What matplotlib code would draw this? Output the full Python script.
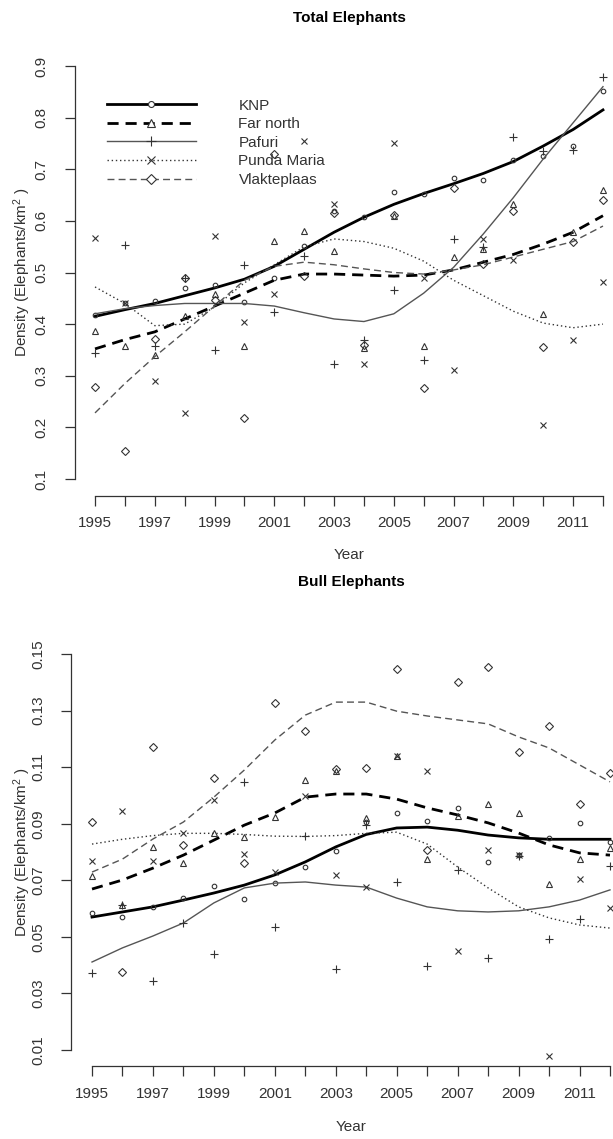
import matplotlib
matplotlib.use('Agg')
import matplotlib.pyplot as plt
from matplotlib.lines import Line2D

plt.rcParams['font.family'] = ['Liberation Sans', 'DejaVu Sans']
plt.rcParams['mathtext.default'] = 'regular'

years = list(range(1995, 2013))
names = ['KNP', 'Far north', 'Pafuri', 'Punda Maria', 'Vlakteplaas']

# ---- Total elephants: observed densities
tot_knp = [0.417, 0.44, 0.444, 0.47, 0.476, 0.443, 0.49, 0.551, 0.62, 0.607, 0.655, 0.653, 0.684, 0.68, 0.717, 0.725, 0.746, 0.851]
tot_far = [0.386, 0.357, 0.341, 0.415, 0.458, 0.357, 0.561, 0.58, 0.542, 0.353, 0.61, 0.357, 0.53, 0.546, 0.633, 0.419, 0.579, 0.66]
tot_paf = [0.345, 0.553, 0.357, 0.49, 0.35, 0.515, 0.423, 0.532, 0.322, 0.37, 0.466, 0.33, 0.565, 0.55, 0.762, 0.735, 0.737, 0.878]
tot_pun = [0.567, 0.44, 0.289, 0.227, 0.571, 0.404, 0.458, 0.755, 0.633, 0.322, 0.75, 0.49, 0.312, 0.565, 0.525, 0.205, 0.37, 0.481]
tot_vla = [0.279, 0.155, 0.371, 0.49, 0.447, 0.219, 0.73, 0.493, 0.615, 0.36, 0.612, 0.277, 0.663, 0.516, 0.62, 0.355, 0.56, 0.641]

# ---- Total elephants: smoothed trends
tot_knp_fit = [0.415, 0.428, 0.44, 0.455, 0.47, 0.487, 0.512, 0.545, 0.578, 0.607, 0.632, 0.653, 0.672, 0.692, 0.715, 0.745, 0.777, 0.815]
tot_far_fit = [0.352, 0.37, 0.385, 0.41, 0.435, 0.46, 0.485, 0.497, 0.497, 0.495, 0.493, 0.495, 0.505, 0.52, 0.535, 0.555, 0.578, 0.61]
tot_paf_fit = [0.42, 0.43, 0.436, 0.44, 0.44, 0.44, 0.435, 0.422, 0.41, 0.405, 0.42, 0.46, 0.51, 0.575, 0.645, 0.72, 0.79, 0.86]
tot_pun_fit = [0.472, 0.44, 0.397, 0.4, 0.433, 0.48, 0.515, 0.55, 0.565, 0.56, 0.547, 0.522, 0.485, 0.455, 0.425, 0.402, 0.393, 0.4]
tot_vla_fit = [0.228, 0.285, 0.337, 0.385, 0.435, 0.485, 0.512, 0.52, 0.515, 0.507, 0.5, 0.497, 0.505, 0.515, 0.53, 0.545, 0.56, 0.59]

# ---- Bull elephants: observed densities
bul_knp = [0.0584, 0.057, 0.0606, 0.0637, 0.068, 0.0634, 0.069, 0.0747, 0.0804, 0.0905, 0.0938, 0.091, 0.0956, 0.0765, 0.079, 0.085, 0.0903, 0.0835]
bul_far = [0.0715, 0.0613, 0.0818, 0.0761, 0.0867, 0.0853, 0.0924, 0.1055, 0.1086, 0.092, 0.1139, 0.0775, 0.0927, 0.097, 0.0938, 0.0687, 0.0775, 0.0815]
bul_paf = [0.0372, 0.0613, 0.0344, 0.0549, 0.044, 0.1048, 0.0535, 0.0857, 0.0386, 0.0895, 0.0694, 0.0397, 0.0736, 0.0425, 0.0785, 0.0493, 0.0563, 0.0751]
bul_pun = [0.0768, 0.0945, 0.0768, 0.0867, 0.0984, 0.0793, 0.0729, 0.0998, 0.0719, 0.0676, 0.1139, 0.1086, 0.045, 0.0807, 0.079, 0.0079, 0.0705, 0.0602]
bul_vla = [0.0906, 0.0376, 0.1171, 0.0825, 0.1062, 0.0761, 0.1327, 0.1228, 0.1095, 0.1097, 0.1447, 0.0807, 0.1401, 0.1454, 0.1154, 0.1245, 0.097, 0.1079]

# ---- Bull elephants: smoothed trends
bul_knp_fit = [0.057, 0.0588, 0.0606, 0.063, 0.0655, 0.0683, 0.0719, 0.0765, 0.0818, 0.0862, 0.0885, 0.0888, 0.0877, 0.086, 0.085, 0.0845, 0.0845, 0.0845]
bul_far_fit = [0.0669, 0.0701, 0.0743, 0.0789, 0.0842, 0.0895, 0.0938, 0.0994, 0.1005, 0.1005, 0.0987, 0.0956, 0.0931, 0.0903, 0.0867, 0.0825, 0.0797, 0.0789]
bul_paf_fit = [0.0411, 0.0461, 0.0503, 0.0549, 0.062, 0.0673, 0.069, 0.0694, 0.0683, 0.0676, 0.0637, 0.0606, 0.0592, 0.0588, 0.0592, 0.0606, 0.063, 0.0666]
bul_pun_fit = [0.0828, 0.0845, 0.0858, 0.0866, 0.0866, 0.0862, 0.0856, 0.0855, 0.0858, 0.0866, 0.087, 0.0828, 0.0747, 0.0673, 0.0606, 0.0567, 0.0542, 0.0531]
bul_vla_fit = [0.0729, 0.0775, 0.0846, 0.0906, 0.0994, 0.109, 0.1196, 0.1284, 0.133, 0.133, 0.1298, 0.1281, 0.1267, 0.1253, 0.1207, 0.1168, 0.1108, 0.1048]

tot_ticks = [0.1, 0.2, 0.3, 0.4, 0.5, 0.6, 0.7, 0.8, 0.9]
bul_ticks = [0.01, 0.03, 0.05, 0.07, 0.09, 0.11, 0.13, 0.15]

# line / marker style per site
sty = {
    'KNP':         dict(color='black',   lw=2.0, ls='-',            marker='o', ms=3.3),
    'Far north':   dict(color='black',   lw=2.0, ls=(0, (4, 2.5)),  marker='^', ms=4.2),
    'Pafuri':      dict(color='#555555', lw=1.0, ls='-',            marker='+', ms=6),
    'Punda Maria': dict(color='#333333', lw=1.0, ls=(0, (1, 2)),    marker='x', ms=4.3),
    'Vlakteplaas': dict(color='#555555', lw=1.0, ls=(0, (5, 3)),    marker='D', ms=3.6),
}

W, H = 613, 1139
fig = plt.figure(figsize=(W / 100, H / 100), dpi=100)


def box(l, t, r, b):
    return [l / W, 1 - b / H, (r - l) / W, (b - t) / H]


def panel(rect, pts, fits, ticks, pad, title, title_y, year_y):
    ax = fig.add_axes(rect)
    for n, p, f in zip(names, pts, fits):
        s = sty[n]
        ax.plot(years, f, color=s['color'], lw=s['lw'], ls=s['ls'])
        ax.plot(years, p, ls='none', marker=s['marker'], ms=s['ms'],
                mfc='none', mec='#333333', mew=0.8)
    ax.set_xlim(1995 - 0.68, 2012 + 0.68)
    ax.set_ylim(ticks[0] - pad, ticks[-1] + pad)
    ax.set_xticks(years)
    ax.set_xticklabels([str(y) if y % 2 == 1 else '' for y in years])
    ax.set_yticks(ticks)
    ax.set_yticklabels(['%g' % t for t in ticks], rotation=90, va='center')
    for sp in ['top', 'right']:
        ax.spines[sp].set_visible(False)
    ax.spines['left'].set_bounds(ticks[0], ticks[-1])
    ax.spines['bottom'].set_bounds(1995, 2012)
    for sp in ['left', 'bottom']:
        ax.spines[sp].set_color('#333333')
        ax.spines[sp].set_linewidth(0.9)
    ax.tick_params(axis='both', direction='out', length=7, width=0.9,
                   color='#333333', labelsize=11, labelcolor='#333333')
    ax.tick_params(axis='x', pad=8)
    ax.tick_params(axis='y', pad=12)
    pos = ax.get_position()
    cx = (pos.x0 + pos.x1) / 2
    cy = (pos.y0 + pos.y1) / 2
    fig.text(cx, 1 - title_y / H, title, ha='center', va='center',
             fontsize=11, fontweight='bold')
    fig.text(cx, 1 - year_y / H, 'Year', ha='center', va='center',
             fontsize=11, color='#333333')
    fig.text(22 / W, cy, 'Density (Elephants/km$^2$ )', rotation=90,
             ha='center', va='center', fontsize=11, color='#333333')
    return ax


ax1 = panel(box(74.7, 49.5, 623.3, 495.5),
            [tot_knp, tot_far, tot_paf, tot_pun, tot_vla],
            [tot_knp_fit, tot_far_fit, tot_paf_fit, tot_pun_fit, tot_vla_fit],
            tot_ticks, 0.032, 'Total Elephants', 18, 555)

ax2 = panel(box(71.3, 638.2, 630.7, 1065.8),
            [bul_knp, bul_far, bul_paf, bul_pun, bul_vla],
            [bul_knp_fit, bul_far_fit, bul_paf_fit, bul_pun_fit, bul_vla_fit],
            bul_ticks, 0.0056, 'Bull Elephants', 582, 1127)

handles = []
for n in names:
    s = sty[n]
    handles.append(Line2D([], [], color=s['color'], lw=s['lw'], ls=s['ls'],
                          marker=s['marker'], ms=s['ms'] + 1, mfc='white',
                          mec='#333333', mew=0.8))
ax1.legend(handles, names, loc='upper left', bbox_to_anchor=(0.059, 0.89),
           frameon=False, fontsize=11, handlelength=5.8, handletextpad=2.8,
           labelspacing=0.3, borderpad=0, borderaxespad=0, numpoints=1,
           labelcolor='#333333')

fig.savefig('out.png', dpi=100)
